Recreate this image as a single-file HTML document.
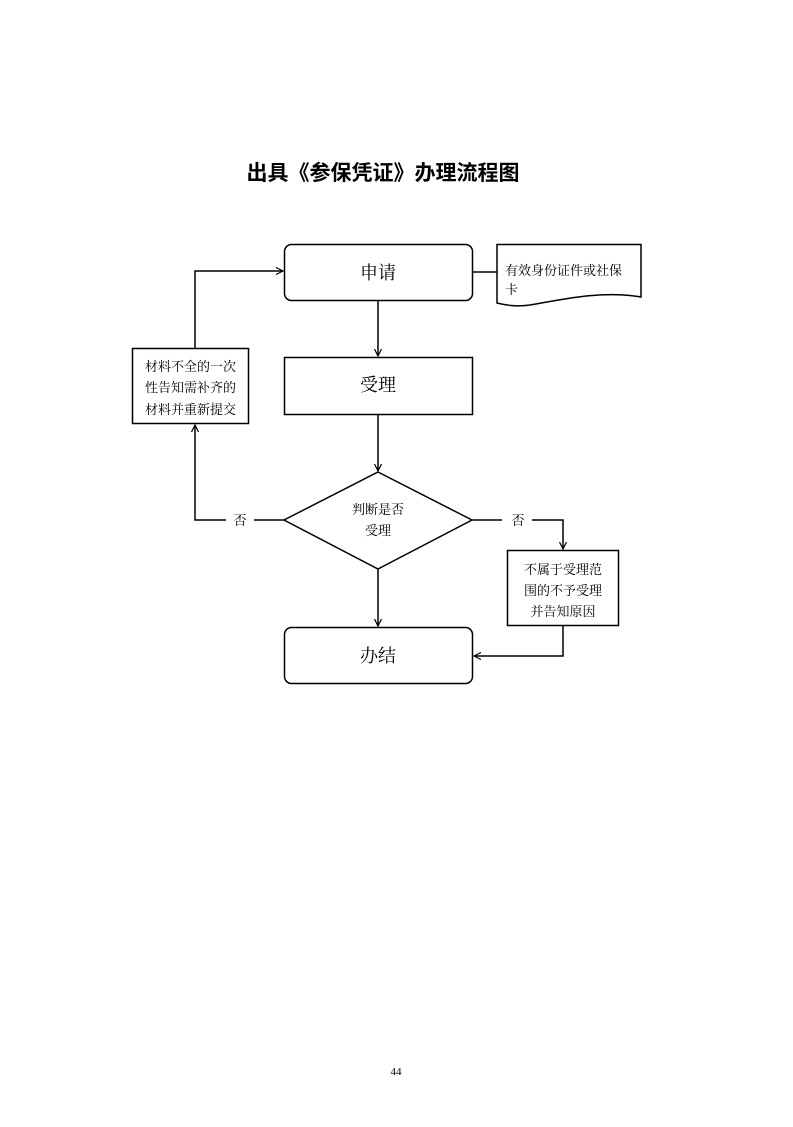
<!DOCTYPE html>
<html><head><meta charset="utf-8"><style>
html,body{margin:0;padding:0;background:#fff;}
svg text{font-family:"Liberation Serif","Noto Serif CJK SC","Noto Sans CJK SC",serif;fill:#000;}
</style></head><body>
<svg width="793" height="1122" viewBox="0 0 793 1122" xmlns="http://www.w3.org/2000/svg">
<defs><marker id="a" markerWidth="8" markerHeight="8" refX="7" refY="4" orient="auto" markerUnits="userSpaceOnUse"><path d="M0,0.5 L7,4 L0,7.5" fill="none" stroke="#000" stroke-width="1.2"/></marker></defs>
<text x="383" y="180" text-anchor="middle" font-size="21" font-weight="bold" style="font-family:'Noto Sans CJK SC',sans-serif">出具《参保凭证》办理流程图</text>
<g fill="none" stroke="#000" stroke-width="1.5">
<rect x="284.5" y="244.5" width="188" height="56" rx="7"/>
<path d="M497,244.5 H641 V297 C600,290 560,300 530,305 C515,307 505,305 497,303 Z"/>
<rect x="284.5" y="357.5" width="188" height="57"/>
<rect x="132.5" y="348.5" width="116" height="75"/>
<path d="M378,472 L472,520 L378,569 L284,520 Z"/>
<rect x="507.5" y="550.5" width="111" height="75"/>
<rect x="284.5" y="627.5" width="188" height="56" rx="7"/>
<line x1="472" y1="272" x2="497" y2="272"/>
<line x1="378" y1="301" x2="378" y2="356" marker-end="url(#a)"/>
<line x1="378" y1="415" x2="378" y2="471" marker-end="url(#a)"/>
<line x1="378" y1="569" x2="378" y2="626" marker-end="url(#a)"/>
<path d="M284,520 H254 M226,520 H195 V425" marker-end="url(#a)"/>
<path d="M195,348 V271 H283" marker-end="url(#a)"/>
<path d="M472,520 H502 M532,520 H563 V549" marker-end="url(#a)"/>
<path d="M563,626 V656 H474" marker-end="url(#a)"/>
</g>
<text x="378" y="279" text-anchor="middle" font-size="18">申请</text>
<text x="378" y="391" text-anchor="middle" font-size="18">受理</text>
<text x="378" y="662" text-anchor="middle" font-size="18">办结</text>
<g font-size="13">
<text x="505" y="275">有效身份证件或社保</text>
<text x="505" y="294">卡</text>
<text x="145" y="371">材料不全的一次</text>
<text x="145" y="392">性告知需补齐的</text>
<text x="145" y="414">材料并重新提交</text>
<text x="378" y="514" text-anchor="middle">判断是否</text>
<text x="378" y="535" text-anchor="middle">受理</text>
<text x="240" y="525" text-anchor="middle">否</text>
<text x="518" y="525" text-anchor="middle">否</text>
<text x="563" y="574" text-anchor="middle">不属于受理范</text>
<text x="563" y="595" text-anchor="middle">围的不予受理</text>
<text x="563" y="616" text-anchor="middle">并告知原因</text>
</g>
<text x="396" y="1075" text-anchor="middle" font-size="11">44</text>
</svg>
</body></html>
